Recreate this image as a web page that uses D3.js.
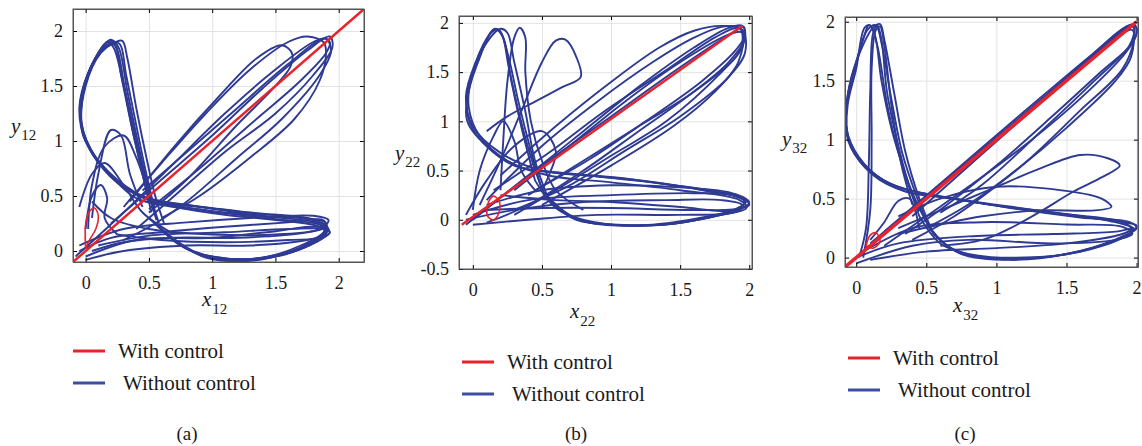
<!DOCTYPE html>
<html>
<head>
<meta charset="utf-8">
<script src="https://cdn.jsdelivr.net/npm/d3@7"></script>
<style>
  body { margin: 0; background: #fff; }
  svg { display: block; }
</style>
</head>
<body>
<div id="chart"></div>
<script>
// tick values
const ticksA = [0, 0.5, 1, 1.5, 2];
const ticksBy = [-0.5, 0, 0.5, 1, 1.5, 2];

// legend entries
const legendLabels = ["With control", "Without control"];
const panelCaptions = ["(a)", "(b)", "(c)"];

// controlled trajectories (red)
const redA = [[-0.1, -0.1], [2.2, 2.2]];
const redLoopA = [[0.0, 0.02], [0.0, 0.25], [0.03, 0.36], [0.07, 0.39], [0.1, 0.32], [0.08, 0.2], [0.03, 0.1], [0.0, 0.02]];
const redB = [[-0.08, -0.05], [1.95, 1.97]];
const redLoopB = [[0.1, 0.1], [0.12, 0.2], [0.15, 0.24], [0.19, 0.19], [0.19, 0.08], [0.15, 0.0], [0.11, 0.03], [0.1, 0.1]];
const redC = [[-0.08, -0.08], [2.0, 2.0]];
const redLoopC = [[0.07, 0.1], [0.1, 0.19], [0.14, 0.21], [0.17, 0.14], [0.12, 0.08], [0.07, 0.1]];

// uncontrolled trajectories (blue)
const blueA = [
  [[0.6, 0.2], [0.8, 0.02], [1.05, -0.07], [1.4, -0.06], [1.7, 0.05], [1.88, 0.17], [1.9, 0.25], [1.75, 0.3], [1.3, 0.35], [0.8, 0.42], [0.45, 0.5], [0.18, 0.72], [0.0, 1.0], [-0.05, 1.3], [0.02, 1.62], [0.15, 1.88], [0.2, 1.92], [0.26, 1.85], [0.33, 1.45], [0.42, 0.95], [0.5, 0.55], [0.58, 0.25]],
  [[0.55, 0.25], [0.75, 0.05], [1.0, -0.05], [1.35, -0.07], [1.65, 0.0], [1.85, 0.12], [1.92, 0.2], [1.8, 0.28], [1.4, 0.32], [0.9, 0.4], [0.5, 0.46], [0.2, 0.68], [0.02, 0.95], [-0.04, 1.25], [0.0, 1.55], [0.1, 1.8], [0.17, 1.9], [0.22, 1.85], [0.3, 1.5], [0.38, 1.05], [0.46, 0.65], [0.52, 0.35]],
  [[0.65, 0.15], [0.9, -0.03], [1.2, -0.08], [1.55, -0.04], [1.85, 0.1], [1.93, 0.17], [1.85, 0.24], [1.5, 0.29], [1.0, 0.36], [0.6, 0.44], [0.3, 0.58], [0.08, 0.85], [-0.03, 1.15], [0.0, 1.5], [0.12, 1.8], [0.24, 1.9], [0.29, 1.91], [0.33, 1.75], [0.4, 1.3], [0.48, 0.85], [0.55, 0.5], [0.62, 0.25]],
  [[0.5, 0.3], [0.7, 0.1], [0.95, -0.06], [1.3, -0.09], [1.6, -0.02], [1.82, 0.08], [1.9, 0.15], [1.85, 0.22], [1.6, 0.27], [1.1, 0.33], [0.7, 0.4], [0.4, 0.48], [0.15, 0.75], [-0.02, 1.05], [-0.03, 1.35], [0.05, 1.68], [0.18, 1.88], [0.23, 1.87], [0.28, 1.6], [0.36, 1.15], [0.44, 0.75], [0.5, 0.45]],
  [[0.58, 0.22], [0.78, 0.03], [1.02, -0.06], [1.38, -0.07], [1.68, 0.02], [1.87, 0.14], [1.91, 0.22], [1.78, 0.29], [1.35, 0.34], [0.85, 0.41], [0.48, 0.48], [0.19, 0.7], [0.01, 0.98], [-0.045, 1.28], [0.01, 1.58], [0.13, 1.85], [0.19, 1.91], [0.24, 1.86], [0.31, 1.48], [0.4, 1.0], [0.48, 0.6], [0.56, 0.28]],
  [[0.62, 0.18], [0.85, 0.0], [1.12, -0.07], [1.45, -0.05], [1.75, 0.06], [1.9, 0.2], [1.82, 0.26], [1.45, 0.31], [0.95, 0.37], [0.55, 0.45], [0.25, 0.62], [0.05, 0.9], [-0.04, 1.2], [-0.01, 1.52], [0.1, 1.78], [0.21, 1.9], [0.27, 1.88], [0.32, 1.6], [0.39, 1.2], [0.47, 0.75], [0.54, 0.4]],
  [[-0.05, 0.0], [0.2, 0.12], [0.6, 0.17], [1.1, 0.22], [1.6, 0.26], [1.88, 0.28], [1.9, 0.22], [1.7, 0.16], [1.2, 0.12], [0.7, 0.12], [0.3, 0.08], [0.05, 0.0]],
  [[-0.05, 0.05], [0.3, 0.2], [0.8, 0.26], [1.3, 0.3], [1.8, 0.32], [1.92, 0.28], [1.85, 0.2], [1.5, 0.15], [1.0, 0.15], [0.5, 0.2], [0.2, 0.3], [0.05, 0.45]],
  [[0.0, -0.05], [0.4, 0.1], [1.0, 0.12], [1.5, 0.18], [1.85, 0.22], [1.93, 0.17], [1.75, 0.1], [1.3, 0.05], [0.8, 0.05], [0.3, 0.0], [0.0, -0.08]],
  [[0.1, 0.05], [0.5, 0.14], [1.1, 0.17], [1.6, 0.2], [1.9, 0.19], [1.88, 0.13], [1.6, 0.1], [1.1, 0.08], [0.6, 0.1], [0.25, 0.15]],
  [[-0.08, -0.05], [0.3, 0.35], [0.7, 0.8], [1.1, 1.25], [1.5, 1.65], [1.8, 1.9], [1.9, 1.93], [1.94, 1.82], [1.85, 1.6], [1.55, 1.2], [1.2, 0.85], [0.8, 0.45], [0.55, 0.25], [0.3, 0.1]],
  [[0.3, 0.4], [0.6, 0.8], [0.95, 1.25], [1.3, 1.65], [1.6, 1.9], [1.75, 1.95], [1.88, 1.9], [1.9, 1.8], [1.85, 1.55], [1.65, 1.2], [1.3, 0.85], [0.9, 0.5], [0.6, 0.3]],
  [[0.35, 0.45], [0.7, 0.95], [1.05, 1.4], [1.35, 1.75], [1.55, 1.87], [1.63, 1.8], [1.62, 1.68], [1.5, 1.5], [1.2, 1.15], [0.8, 0.65], [0.5, 0.35]],
  [[0.2, 0.25], [0.6, 0.65], [1.0, 1.05], [1.4, 1.48], [1.75, 1.82], [1.93, 1.95], [1.95, 1.85], [1.8, 1.6], [1.5, 1.25], [1.1, 0.9], [0.7, 0.5], [0.4, 0.2]],
  [[0.5, 0.38], [0.9, 0.75], [1.3, 1.15], [1.7, 1.55], [1.9, 1.8], [1.93, 1.9], [1.88, 1.93], [1.6, 1.7], [1.2, 1.3], [0.8, 0.9], [0.45, 0.55]],
  [[0.0, 0.2], [0.05, 0.5], [0.12, 0.6], [0.17, 0.48], [0.15, 0.3], [0.25, 0.15]],
  [[0.05, 0.3], [0.1, 0.7], [0.2, 1.1], [0.28, 1.05], [0.35, 0.7], [0.45, 0.4]],
  [[0.02, 0.2], [0.05, 0.6], [0.15, 0.95], [0.3, 1.05], [0.4, 0.85], [0.5, 0.5]],
  [[-0.05, 0.4], [0.05, 0.7], [0.15, 0.8], [0.3, 0.6], [0.45, 0.35], [0.7, 0.15]]
];

const blueB = [
  [[0.5, 0.3], [0.7, 0.05], [0.95, -0.04], [1.3, -0.05], [1.65, 0.02], [1.9, 0.1], [2.0, 0.15], [1.95, 0.22], [1.6, 0.32], [1.1, 0.42], [0.6, 0.48], [0.3, 0.55], [0.1, 0.75], [-0.04, 1.0], [-0.03, 1.3], [0.05, 1.65], [0.14, 1.92], [0.19, 1.93], [0.25, 1.7], [0.33, 1.2], [0.42, 0.7], [0.5, 0.3]],
  [[0.55, 0.2], [0.75, 0.0], [1.05, -0.05], [1.45, -0.04], [1.8, 0.05], [1.98, 0.12], [1.93, 0.2], [1.5, 0.3], [1.0, 0.38], [0.55, 0.45], [0.25, 0.6], [0.05, 0.85], [-0.03, 1.15], [0.0, 1.5], [0.1, 1.8], [0.2, 1.94], [0.25, 1.9], [0.3, 1.6], [0.38, 1.1], [0.45, 0.6], [0.55, 0.2]],
  [[0.45, 0.4], [0.6, 0.12], [0.85, -0.03], [1.2, -0.06], [1.55, -0.02], [1.85, 0.08], [1.97, 0.18], [1.85, 0.26], [1.4, 0.36], [0.9, 0.44], [0.5, 0.5], [0.2, 0.68], [0.0, 0.95], [-0.05, 1.25], [0.02, 1.6], [0.12, 1.88], [0.17, 1.93], [0.22, 1.85], [0.28, 1.4], [0.35, 0.95], [0.45, 0.4]],
  [[0.52, 0.25], [0.72, 0.02], [1.0, -0.05], [1.38, -0.05], [1.72, 0.03], [1.94, 0.11], [1.96, 0.2], [1.7, 0.29], [1.2, 0.4], [0.7, 0.47], [0.35, 0.53], [0.12, 0.72], [-0.02, 0.98], [-0.04, 1.28], [0.04, 1.62], [0.13, 1.9], [0.16, 1.94], [0.21, 1.88], [0.26, 1.55], [0.34, 1.05], [0.44, 0.55], [0.52, 0.25]],
  [[0.2, 0.3], [0.22, 0.8], [0.25, 1.4], [0.3, 1.85], [0.34, 1.95], [0.38, 1.85], [0.38, 1.5], [0.42, 1.0], [0.5, 0.6], [0.6, 0.3], [0.8, 0.1]],
  [[0.05, 0.15], [0.2, 0.6], [0.35, 1.1], [0.5, 1.6], [0.6, 1.82], [0.67, 1.83], [0.75, 1.65], [0.78, 1.45], [0.65, 1.35], [0.45, 1.2], [0.25, 1.05], [0.1, 0.9]],
  [[0.0, 0.1], [0.05, 0.5], [0.15, 0.85], [0.22, 1.0], [0.3, 0.8], [0.35, 0.5], [0.45, 0.3]],
  [[-0.05, 0.05], [0.1, 0.4], [0.3, 0.75], [0.5, 0.9], [0.6, 0.7], [0.55, 0.45], [0.5, 0.3]],
  [[-0.05, -0.05], [0.4, 0.45], [0.8, 0.9], [1.2, 1.35], [1.6, 1.75], [1.85, 1.95], [1.95, 1.97], [1.97, 1.85], [1.85, 1.6], [1.55, 1.25], [1.2, 0.9], [0.8, 0.5], [0.4, 0.15], [0.1, -0.03]],
  [[0.1, 0.2], [0.5, 0.75], [0.9, 1.2], [1.3, 1.6], [1.6, 1.85], [1.8, 1.96], [1.93, 1.95], [1.95, 1.8], [1.9, 1.65], [1.6, 1.3], [1.2, 0.95], [0.8, 0.6], [0.4, 0.25]],
  [[0.2, 0.45], [0.6, 0.95], [1.0, 1.4], [1.35, 1.75], [1.6, 1.92], [1.8, 1.97], [1.95, 1.93], [1.97, 1.7], [1.85, 1.45], [1.5, 1.05], [1.1, 0.7], [0.7, 0.35], [0.3, 0.1]],
  [[0.0, 0.0], [0.5, 0.55], [1.0, 1.05], [1.5, 1.55], [1.9, 1.92], [1.96, 1.96], [1.95, 1.75], [1.8, 1.5], [1.4, 1.0], [1.0, 0.65], [0.6, 0.3], [0.3, 0.05]],
  [[0.3, 0.3], [0.7, 0.75], [1.1, 1.2], [1.5, 1.6], [1.85, 1.88], [1.95, 1.9], [1.92, 1.6], [1.75, 1.3], [1.45, 0.95], [1.0, 0.55], [0.5, 0.15]],
  [[0.15, 0.3], [0.55, 0.68], [0.95, 1.1], [1.4, 1.52], [1.75, 1.85], [1.92, 1.95], [1.97, 1.88], [1.9, 1.72], [1.65, 1.4], [1.25, 1.0], [0.85, 0.62], [0.45, 0.3]],
  [[-0.05, 0.0], [0.3, 0.1], [0.8, 0.18], [1.4, 0.2], [1.8, 0.2], [1.95, 0.15], [1.9, 0.08], [1.5, 0.05], [0.9, 0.05], [0.4, 0.0], [0.0, -0.05]],
  [[0.0, 0.05], [0.4, 0.2], [1.0, 0.25], [1.6, 0.27], [1.9, 0.25], [2.0, 0.18], [1.95, 0.12], [1.6, 0.1], [1.0, 0.12], [0.5, 0.12], [0.1, 0.1]],
  [[0.1, 0.15], [0.5, 0.3], [1.0, 0.35], [1.5, 0.33], [1.85, 0.28], [1.98, 0.2], [1.9, 0.1], [1.5, 0.13], [1.0, 0.18], [0.6, 0.2], [0.2, 0.25]]
];

const blueC = [
  [[0.5, 0.3], [0.65, 0.1], [0.9, 0.0], [1.3, 0.0], [1.7, 0.08], [1.95, 0.2], [2.0, 0.27], [1.9, 0.3], [1.5, 0.36], [1.0, 0.44], [0.6, 0.52], [0.3, 0.6], [0.08, 0.75], [-0.06, 1.0], [-0.06, 1.3], [0.0, 1.6], [0.06, 1.95], [0.1, 1.97], [0.15, 1.8], [0.22, 1.3], [0.3, 0.9], [0.4, 0.55], [0.5, 0.3]],
  [[0.55, 0.2], [0.75, 0.03], [1.1, -0.02], [1.5, 0.03], [1.85, 0.15], [1.98, 0.24], [1.85, 0.3], [1.3, 0.4], [0.8, 0.48], [0.45, 0.55], [0.2, 0.65], [0.02, 0.85], [-0.07, 1.1], [-0.05, 1.45], [0.03, 1.75], [0.12, 1.95], [0.17, 1.98], [0.2, 1.85], [0.27, 1.4], [0.35, 0.9], [0.45, 0.5], [0.55, 0.2]],
  [[0.45, 0.35], [0.6, 0.12], [0.85, 0.02], [1.2, 0.0], [1.6, 0.05], [1.9, 0.18], [2.0, 0.25], [1.95, 0.3], [1.6, 0.34], [1.1, 0.42], [0.7, 0.5], [0.35, 0.56], [0.12, 0.7], [-0.04, 0.95], [-0.07, 1.25], [-0.02, 1.55], [0.05, 1.85], [0.09, 1.97], [0.13, 1.9], [0.18, 1.5], [0.25, 1.1], [0.35, 0.7], [0.45, 0.35]],
  [[0.52, 0.25], [0.7, 0.06], [1.0, -0.01], [1.4, 0.01], [1.78, 0.12], [1.97, 0.22], [1.92, 0.29], [1.4, 0.38], [0.9, 0.46], [0.5, 0.54], [0.25, 0.62], [0.05, 0.8], [-0.065, 1.05], [-0.06, 1.38], [0.01, 1.7], [0.08, 1.93], [0.14, 1.97], [0.18, 1.82], [0.25, 1.35], [0.33, 0.88], [0.43, 0.52], [0.52, 0.25]],
  [[0.05, 0.0], [0.1, 0.4], [0.11, 1.0], [0.11, 1.6], [0.14, 1.93], [0.17, 1.96], [0.2, 1.8], [0.25, 1.3], [0.32, 0.8], [0.4, 0.45]],
  [[0.02, 0.0], [0.07, 0.25], [0.09, 0.8], [0.1, 1.4], [0.12, 1.9], [0.15, 1.97], [0.18, 1.85], [0.22, 1.4], [0.3, 0.95], [0.38, 0.6], [0.45, 0.4]],
  [[-0.05, -0.05], [0.5, 0.5], [1.0, 1.0], [1.5, 1.52], [1.9, 1.93], [1.98, 1.98], [2.0, 1.9], [1.93, 1.75], [1.6, 1.35], [1.2, 0.95], [0.8, 0.6], [0.5, 0.35], [0.2, 0.1]],
  [[0.1, 0.12], [0.6, 0.62], [1.1, 1.12], [1.6, 1.63], [1.92, 1.95], [1.98, 1.95], [1.95, 1.8], [1.7, 1.5], [1.3, 1.05], [0.9, 0.62], [0.6, 0.38]],
  [[0.3, 0.3], [0.8, 0.8], [1.3, 1.3], [1.8, 1.82], [1.97, 1.97], [1.98, 1.85], [1.9, 1.6], [1.6, 1.25], [1.2, 0.8], [0.8, 0.45], [0.5, 0.25]],
  [[0.4, 0.35], [0.9, 0.88], [1.4, 1.4], [1.85, 1.86], [1.97, 1.93], [1.96, 1.7], [1.85, 1.5], [1.5, 1.1], [1.1, 0.7], [0.7, 0.35], [0.4, 0.15]],
  [[0.2, 0.22], [0.7, 0.73], [1.2, 1.24], [1.7, 1.74], [1.95, 1.97], [2.0, 1.95], [1.97, 1.82], [1.75, 1.58], [1.4, 1.2], [1.0, 0.78], [0.65, 0.45], [0.35, 0.2]],
  [[0.0, 0.0], [0.3, 0.12], [0.8, 0.18], [1.4, 0.2], [1.85, 0.22], [1.98, 0.25], [1.9, 0.2], [1.5, 0.12], [1.0, 0.08], [0.5, 0.05], [0.1, -0.02]],
  [[0.05, 0.05], [0.4, 0.25], [0.9, 0.3], [1.5, 0.28], [1.9, 0.26], [1.97, 0.2], [1.85, 0.15], [1.4, 0.12], [0.8, 0.15], [0.4, 0.1], [0.0, -0.05]],
  [[0.3, 0.25], [0.7, 0.45], [1.0, 0.6], [1.3, 0.75], [1.6, 0.87], [1.8, 0.84], [1.88, 0.78], [1.75, 0.68], [1.55, 0.56], [1.3, 0.38], [1.1, 0.25], [0.9, 0.15], [0.6, 0.1]],
  [[0.3, 0.35], [0.6, 0.5], [1.0, 0.6], [1.4, 0.58], [1.75, 0.5], [1.82, 0.43], [1.7, 0.4], [1.3, 0.4], [0.9, 0.35], [0.6, 0.28], [0.3, 0.2]],
  [[0.1, 0.15], [0.2, 0.3], [0.3, 0.48], [0.38, 0.5], [0.42, 0.4], [0.45, 0.25]]
];

const blueColor = "#2e3a93";
const redColor = "#e8232c";
const serif = "'Liberation Serif', 'DejaVu Serif', 'Times New Roman', serif";

const svg = d3.select("#chart").append("svg")
  .attr("width", 1142)
  .attr("height", 446)
  .attr("font-family", serif);

const panels = [
  { box: {left: 73, right: 364, top: 9, bottom: 262}, xDomain: [-0.1, 2.2], yDomain: [-0.1, 2.2],
    xTicks: ticksA, yTicks: ticksA, blue: blueA, red: [redA, redLoopA], redWidth: 2.5, sub: "12",
    xLabel: [202, 306], yLabel: [11, 133], legend: [73, 351], caption: [187, 440] },
  { box: {left: 459, right: 752, top: 16, bottom: 269}, xDomain: [-0.1, 2.02], yDomain: [-0.5, 2.07],
    xTicks: ticksA, yTicks: ticksBy, blue: blueB, red: [redB, redLoopB], redWidth: 2.5, sub: "22",
    xLabel: [570, 318], yLabel: [395, 160], legend: [462, 362], caption: [576, 440] },
  { box: {left: 845, right: 1138, top: 17, bottom: 267}, xDomain: [-0.08, 2.01], yDomain: [-0.08, 2.04],
    xTicks: ticksA, yTicks: ticksA, blue: blueC, red: [redC, redLoopC], redWidth: 3.5, sub: "32",
    xLabel: [953, 312], yLabel: [782, 146], legend: [848, 358], caption: [965, 440] }
];

panels.forEach(function (p, i) {
  const b = p.box;
  const w = b.right - b.left, h = b.bottom - b.top;
  const g = svg.append("g").attr("transform", "translate(" + b.left + "," + b.top + ")");

  const x = d3.scaleLinear().domain(p.xDomain).range([0, w]);
  const y = d3.scaleLinear().domain(p.yDomain).range([h, 0]);

  // grid
  g.append("g")
    .attr("transform", "translate(0," + h + ")")
    .call(d3.axisBottom(x).tickValues(p.xTicks).tickSize(-h).tickFormat(""))
    .call(s => s.select(".domain").remove())
    .call(s => s.selectAll("line").attr("stroke", "#e3e3e3"));
  g.append("g")
    .call(d3.axisLeft(y).tickValues(p.yTicks).tickSize(-w).tickFormat(""))
    .call(s => s.select(".domain").remove())
    .call(s => s.selectAll("line").attr("stroke", "#e3e3e3"));

  // clip to the axes box
  const clipId = "clip" + i;
  g.append("clipPath").attr("id", clipId)
    .append("rect").attr("width", w).attr("height", h);

  const line = d3.line()
    .x(d => x(d[0]))
    .y(d => y(d[1]))
    .curve(d3.curveCatmullRom.alpha(0.5));

  const plot = g.append("g").attr("clip-path", "url(#" + clipId + ")");

  plot.selectAll("path.blue")
    .data(p.blue)
    .enter()
    .append("path")
    .attr("class", "blue")
    .attr("d", line)
    .attr("fill", "none")
    .attr("stroke", blueColor)
    .attr("stroke-width", 1.9);

  plot.selectAll("path.red")
    .data(p.red)
    .enter()
    .append("path")
    .attr("class", "red")
    .attr("d", line)
    .attr("fill", "none")
    .attr("stroke", redColor)
    .attr("stroke-width", (d, j) => j === 0 ? p.redWidth : 1.6);

  // axes with inward ticks, MATLAB style
  const fmt = d => String(d);
  g.append("g")
    .attr("transform", "translate(0," + h + ")")
    .call(d3.axisBottom(x).tickValues(p.xTicks).tickSizeInner(-4).tickSizeOuter(0).tickPadding(14).tickFormat(fmt))
    .call(s => s.selectAll("text").attr("font-family", serif).style("font-size", "18px").attr("fill", "#1a1a1a"));
  g.append("g")
    .call(d3.axisLeft(y).tickValues(p.yTicks).tickSizeInner(-4).tickSizeOuter(0).tickPadding(10).tickFormat(fmt))
    .call(s => s.selectAll("text").attr("font-family", serif).style("font-size", "18px").attr("fill", "#1a1a1a"));
  g.append("g")
    .call(d3.axisTop(x).tickValues(p.xTicks).tickSizeInner(-4).tickSizeOuter(0).tickFormat(""));
  g.append("g")
    .attr("transform", "translate(" + w + ",0)")
    .call(d3.axisRight(y).tickValues(p.yTicks).tickSizeInner(-4).tickSizeOuter(0).tickFormat(""));
  g.selectAll(".domain").attr("stroke", "#555");

  g.append("rect")
    .attr("width", w).attr("height", h)
    .attr("fill", "none").attr("stroke", "#555").attr("stroke-width", 1);

  // axis labels
  const xl = svg.append("text").attr("x", p.xLabel[0]).attr("y", p.xLabel[1])
    .attr("font-family", serif).style("font-size", "21px").attr("fill", "#1a1a1a");
  xl.append("tspan").style("font-style", "italic").text("x");
  xl.append("tspan").attr("dy", 8).attr("dx", 1).style("font-size", "15px").text(p.sub);

  const yl = svg.append("text").attr("x", p.yLabel[0]).attr("y", p.yLabel[1])
    .attr("font-family", serif).style("font-size", "21px").attr("fill", "#1a1a1a");
  yl.append("tspan").style("font-style", "italic").text("y");
  yl.append("tspan").attr("dy", 7).attr("dx", 1).style("font-size", "15px").text(p.sub);

  // legend
  const lg = svg.append("g").attr("transform", "translate(" + p.legend[0] + "," + p.legend[1] + ")");
  lg.append("line").attr("x1", 0).attr("x2", 32).attr("y1", 0).attr("y2", 0)
    .attr("stroke", redColor).attr("stroke-width", 3);
  lg.append("text").attr("x", 45).attr("y", 7).attr("font-family", serif)
    .style("font-size", "21px").attr("fill", "#1a1a1a").text(legendLabels[0]);
  lg.append("line").attr("x1", 0).attr("x2", 32).attr("y1", 32).attr("y2", 32)
    .attr("stroke", "#3b4ea3").attr("stroke-width", 3);
  lg.append("text").attr("x", 50).attr("y", 39).attr("font-family", serif)
    .style("font-size", "21px").attr("fill", "#1a1a1a").text(legendLabels[1]);

  svg.append("text")
    .attr("x", p.caption[0]).attr("y", p.caption[1])
    .attr("text-anchor", "middle")
    .attr("font-family", serif)
    .style("font-size", "19px")
    .attr("fill", "#1a1a1a")
    .text(panelCaptions[i]);
});
</script>
</body>
</html>
